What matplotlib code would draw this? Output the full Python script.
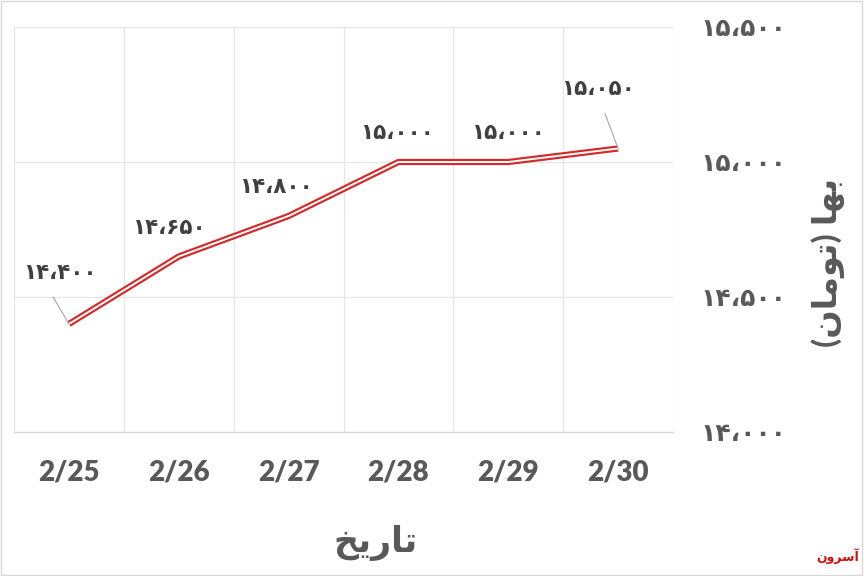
import matplotlib.pyplot as plt
from matplotlib.patches import Rectangle

# data
dates = ['2/25', '2/26', '2/27', '2/28', '2/29', '2/30']
prices = [14400, 14650, 14800, 15000, 15000, 15050]
price_labels = ['۱۴،۴۰۰', '۱۴،۶۵۰', '۱۴،۸۰۰', '۱۵،۰۰۰', '۱۵،۰۰۰', '۱۵،۰۵۰']
y_ticks = [14000, 14500, 15000, 15500]
y_tick_labels = ['۱۴،۰۰۰', '۱۴،۵۰۰', '۱۵،۰۰۰', '۱۵،۵۰۰']

# persian titles, pre-shaped (visual order) since matplotlib does no arabic shaping
x_title = '\uFEA6\uFEF3\uFEAD\uFE8E\uFE97'  # تاریخ
y_title = '(\uFEE5\uFE8E\uFEE3\uFEEE\uFE97) \uFE8E\uFEEC\uFE91'  # بها (تومان)
logo = '\uFEE5\uFEED\uFEAE\uFEB3\uFE81'  # آسرون

fam = ['Lato', 'DejaVu Sans']
grey = '#595959'

fig = plt.figure(figsize=(8.64, 5.76), dpi=100)
ax = fig.add_axes([14/864, 1 - 432/576, (673 - 14)/864, (432 - 27)/576])

x = list(range(len(dates)))
ax.plot(x, prices, color='#d42a2a', lw=4.5, solid_capstyle='butt', solid_joinstyle='miter', zorder=3)
ax.plot(x, prices, color='white', lw=1.4, solid_capstyle='butt', solid_joinstyle='miter', zorder=4)

ax.set_xlim(-0.5, len(dates) - 0.5)
ax.set_ylim(14000, 15500)

# gridlines between categories
for b in range(len(dates) + 1):
    ax.axvline(b - 0.5, color='#e6e6e6', lw=0.9, zorder=1)
for t in y_ticks[1:]:
    ax.axhline(t, color='#e6e6e6', lw=0.9, zorder=1)

for s in ax.spines.values():
    s.set_visible(False)
ax.spines['bottom'].set_visible(True)
ax.spines['bottom'].set_color('#d9d9d9')
ax.spines['bottom'].set_linewidth(1.0)

ax.set_xticks(x)
ax.set_xticklabels(dates, family=fam, fontweight='heavy', fontsize=20, color=grey)
ax.yaxis.tick_right()
ax.set_yticks(y_ticks)
ax.set_yticklabels(y_tick_labels, family=fam, fontweight='bold', fontsize=18, color=grey)
ax.tick_params(axis='x', length=0, pad=20)
ax.tick_params(axis='y', length=0, pad=20)

# data labels (offsets in pixels)
offsets = [(-9, 51), (-10, 29), (-13, 29), (-1, 29), (0, 29), (-20, 60)]
leaders = [True, False, False, False, False, True]
for i, (v, lab) in enumerate(zip(prices, price_labels)):
    dx, dy = offsets[i]
    ap = None
    if leaders[i]:
        ap = dict(arrowstyle='-', color='#a6a6a6', lw=0.8, shrinkA=9, shrinkB=0,
                  relpos=(0.3, 0) if i == 0 else (0.52, 0))
    ax.annotate(lab, (i, v), xytext=(dx, dy), textcoords='offset pixels',
                ha='center', va='center', family=fam, fontweight='bold',
                fontsize=15.5, color='#404040', arrowprops=ap, zorder=5)

fig.text(375/864, 1 - 543/576, x_title, family=fam, fontweight='bold', fontsize=25,
         color=grey, ha='center', va='center')
fig.text(828/864, 1 - 262/576, y_title, family=fam, fontweight='bold', fontsize=24,
         color=grey, ha='center', va='center', rotation=90)
fig.text(838/864, 1 - 556/576, logo, family=fam, fontweight='bold', fontsize=9,
         color='#d01010', ha='center', va='center')

fig.patches.append(Rectangle((0.001, 0.002), 0.997, 0.996, transform=fig.transFigure,
                             fill=False, edgecolor='#d9d9d9', lw=1.0))

fig.savefig('out.png', dpi=100, facecolor='white')
